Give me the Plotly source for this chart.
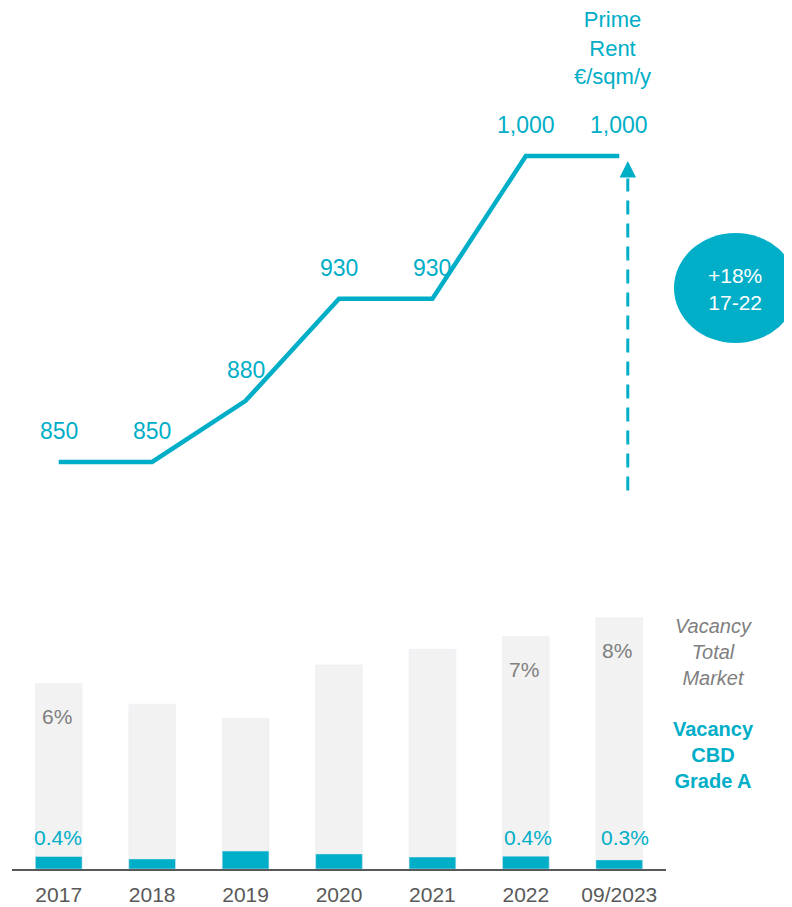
import plotly.graph_objects as go

# ---- data ----
years = ["2017", "2018", "2019", "2020", "2021", "2022", "09/2023"]
prime_rent = [850, 850, 880, 930, 930, 1000, 1000]
prime_rent_labels = ["850", "850", "880", "930", "930", "1,000", "1,000"]
vacancy_total = [5.9, 5.25, 4.8, 6.5, 7.0, 7.4, 8.0]
vacancy_total_labels = ["6%", "", "", "", "", "7%", "8%"]
vacancy_cbd = [0.4, 0.32, 0.57, 0.48, 0.38, 0.41, 0.29]
vacancy_cbd_labels = ["0.4%", "", "", "", "", "0.4%", "0.3%"]
growth_text = "+18%<br>17-22"

TEAL = "#00AEC7"
GREY_BAR = "#F2F2F2"
GREY_TXT = "#7F7F7F"
AXIS_TXT = "#595959"
FONT = "Liberation Sans, Arial, sans-serif"

xs = list(range(len(years)))

fig = go.Figure()

# bars: total vacancy (grey) and CBD grade A (teal), overlaid
fig.add_trace(go.Bar(x=xs, y=vacancy_total, marker_color=GREY_BAR, width=0.5,
                     xaxis="x", yaxis="y2", hoverinfo="skip"))
fig.add_trace(go.Bar(x=xs, y=vacancy_cbd, marker_color=TEAL, width=0.5,
                     xaxis="x", yaxis="y2", hoverinfo="skip"))

# prime rent line
fig.add_trace(go.Scatter(x=xs, y=prime_rent, mode="lines",
                         line=dict(color=TEAL, width=4.5, shape="linear"),
                         xaxis="x", yaxis="y", hoverinfo="skip"))

annotations = []
for x, v, t in zip(xs, prime_rent, prime_rent_labels):
    annotations.append(dict(x=x, y=v, xref="x", yref="y", text=t, showarrow=False,
                            yshift=31, font=dict(family=FONT, size=23, color=TEAL)))

for x, v, t in zip(xs, vacancy_total, vacancy_total_labels):
    if t:
        annotations.append(dict(x=x, y=v, xref="x", yref="y2", text=t, showarrow=False,
                                yshift=-33, xshift=-2,
                                font=dict(family=FONT, size=21, color=GREY_TXT)))

cbd_xshift = [-1, 0, 0, 0, 0, 2, 6]
for x, t, s in zip(xs, vacancy_cbd_labels, cbd_xshift):
    if t:
        annotations.append(dict(x=x, y=1.0, xref="x", yref="y2", text=t, showarrow=False,
                                xshift=s, font=dict(family=FONT, size=21, color=TEAL)))

# title of line
annotations.append(dict(x=xs[-1], y=0.9535, xref="x", yref="paper", xshift=-7,
                        text="Prime<br>Rent<br>€/sqm/y", showarrow=False,
                        xanchor="center", yanchor="middle",
                        font=dict(family=FONT, size=22, color=TEAL)))

# right-hand legends
annotations.append(dict(x=1.073, y=0.252, xref="paper", yref="paper",
                        xanchor="center", yanchor="middle",
                        text="<i>Vacancy<br>Total<br>Market</i>", showarrow=False,
                        font=dict(family=FONT, size=20, color=GREY_TXT)))
annotations.append(dict(x=1.073, y=0.1324, xref="paper", yref="paper",
                        xanchor="center", yanchor="middle",
                        text="<b>Vacancy<br>CBD<br>Grade A</b>", showarrow=False,
                        font=dict(family=FONT, size=20, color=TEAL)))

# growth bubble text
annotations.append(dict(x=1.1055, y=0.6736, xref="paper", yref="paper",
                        xanchor="center", yanchor="middle",
                        text=growth_text, showarrow=False,
                        font=dict(family=FONT, size=21, color="white")))

# arrow head of dashed growth arrow
arrow_x = 6.091
annotations.append(dict(x=arrow_x, y=prime_rent[-1] - 2.5, xref="x", yref="y",
                        ax=arrow_x, ay=prime_rent[-1] - 10, axref="x", ayref="y",
                        showarrow=True, arrowhead=2, arrowsize=1.1, arrowwidth=3,
                        arrowcolor=TEAL, text=""))

shapes = [
    dict(type="line", xref="x", yref="y", x0=arrow_x, x1=arrow_x,
         y0=prime_rent[0] - 14, y1=prime_rent[-1] - 11,
         line=dict(color=TEAL, width=3, dash="14px,9px")),
    dict(type="circle", xref="paper", yref="paper", x0=1.0122, x1=1.2003,
         y0=0.6109, y1=0.7387, fillcolor=TEAL, line=dict(width=0), layer="above"),
]

fig.update_layout(
    width=784, height=899,
    margin=dict(l=4, r=126, t=0, b=38),
    paper_bgcolor="white", plot_bgcolor="white",
    showlegend=False, barmode="overlay",
    annotations=annotations, shapes=shapes,
    xaxis=dict(anchor="y2", range=[-0.5, 6.5], tickmode="array", tickvals=xs,
               ticktext=years, showline=True, linecolor=AXIS_TXT, linewidth=2,
               showgrid=False, zeroline=False, ticks="outside", ticklen=6,
               tickcolor="rgba(0,0,0,0)",
               tickfont=dict(family=FONT, size=21, color=AXIS_TXT)),
    yaxis=dict(domain=[0.36, 1], range=[802.43, 1072.55], visible=False, showgrid=False),
    yaxis2=dict(domain=[0, 0.310], range=[0, 8.5], visible=False, showgrid=False),
)

fig.write_html("out.html")
